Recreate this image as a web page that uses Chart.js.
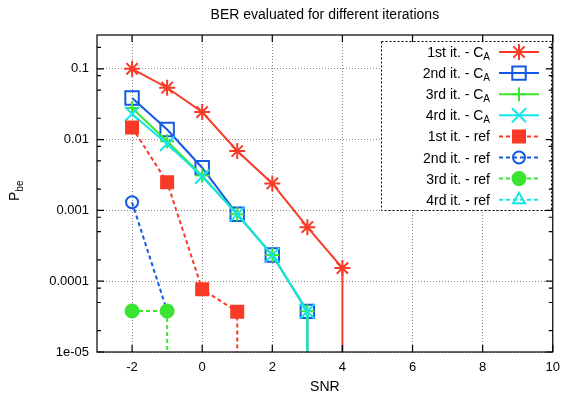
<!DOCTYPE html>
<html>
<head>
<meta charset="utf-8">
<script src="https://cdn.jsdelivr.net/npm/chart.js@4.4.1/dist/chart.umd.min.js"></script>
<style>
  body { margin: 0; background: #fff; }
  canvas { display: block; }
</style>
</head>
<body>
<canvas id="berChart" width="568" height="394"></canvas>
<script>
// SNR points and BER
const snr = [-2, -1, 0, 1, 2, 3, 4];
const it1CA = [0.1, 0.054, 0.0245, 0.0069, 0.0024, 0.00058, 0.000153];
const it2CA = [0.0386, 0.0139, 0.004, 0.00088, 0.000234, 0.0000375];
const it3CA = [0.028, 0.0095, 0.0031, 0.00088, 0.000234, 0.0000375];
const it4CA = [0.023, 0.0087, 0.003, 0.00088, 0.000234, 0.0000375];
const it1Ref = [0.0148, 0.0025, 0.000077, 0.000037];
const it2Ref = [0.0013, 0.000038];
const it3Ref = [0.000038, 0.000038];
const it4Ref = [];
// does the curve drop to zero errors after its last point
const dropsToZero = [true, true, true, true, true, false, true, false];

const seriesLabels = [
  "1st it. - C_A", "2nd it. - C_A", "3rd it. - C_A", "4rd it. - C_A",
  "1st it. - ref", "2nd it. - ref", "3rd it. - ref", "4rd it. - ref"
];
const xTicks = [-2, 0, 2, 4, 6, 8, 10];
const yTicks = [1e-5, 1e-4, 1e-3, 1e-2, 1e-1];
const yTickLabels = ["1e-05", "0.0001", "0.001", "0.01", "0.1"];
const yMinorMult = [2, 5, 8];

// zero errors: curve falls off the bottom of the plot
const ZERO_BER = 1e-9;

const RED = "#f83a26", BLUE = "#1259e6", GREEN = "#3ce432", CYAN = "#14e6e6";
const NONE = "rgba(0,0,0,0)";

const styles = [
  { color: RED,   dash: [],     point: "star",     radius: 8,   fill: false },
  { color: BLUE,  dash: [],     point: "rect",     radius: 9.5, fill: false },
  { color: GREEN, dash: [],     point: "cross",    radius: 7,   fill: false },
  { color: CYAN,  dash: [],     point: "crossRot", radius: 10,  fill: false },
  { color: RED,   dash: [4, 3], point: "rect",     radius: 8.5, fill: true },
  { color: BLUE,  dash: [4, 3], point: "circle",   radius: 6,   fill: false },
  { color: GREEN, dash: [4, 3], point: "circle",   radius: 6.5, fill: true },
  { color: CYAN,  dash: [4, 3], point: "triangle", radius: 7,   fill: false }
];

const allValues = [it1CA, it2CA, it3CA, it4CA, it1Ref, it2Ref, it3Ref, it4Ref];

function makeDataset(values, i) {
  const s = styles[i];
  const pts = values.map((v, k) => ({ x: snr[k], y: v }));
  if (pts.length && dropsToZero[i]) pts.push({ x: pts[pts.length - 1].x, y: ZERO_BER });
  return {
    label: seriesLabels[i],
    data: pts,
    order: -i,
    borderColor: s.color,
    borderWidth: 2,
    borderDash: s.dash,
    pointStyle: s.point,
    pointRadius: pts.map((p) => (p.y === ZERO_BER ? 0 : s.radius)),
    pointBorderColor: s.color,
    pointBackgroundColor: s.fill ? s.color : NONE,
    pointBorderWidth: 2,
    tension: 0,
    fill: false
  };
}

const FONT = "'Liberation Sans', Arial, sans-serif";

const framePlugin = {
  id: "frame",
  beforeDraw(chart) {
    const c = chart.ctx;
    c.save();
    c.fillStyle = "#fff";
    c.fillRect(0, 0, chart.width, chart.height);
    c.restore();
  },
  afterDatasetsDraw(chart) {
    const c = chart.ctx;
    const a = chart.chartArea;
    const xs = chart.scales.x, ys = chart.scales.y;

    // legend box
    const bx = 381.5, by = 41.5, bw = 170, bh = 169;
    c.save();
    c.fillStyle = "#fff";
    c.fillRect(bx, by, bw, bh);
    c.strokeStyle = "#000";
    c.lineWidth = 1;
    c.setLineDash([2, 2]);
    c.strokeRect(bx, by, bw, bh);
    c.setLineDash([]);

    chart.data.datasets.forEach((ds, i) => {
      const y = 52 + i * 21.1;
      const s = styles[i];
      const parts = ds.label.split("_");
      c.fillStyle = "#000";
      c.textBaseline = "alphabetic";
      c.textAlign = "left";
      let right = 490;
      c.font = "10px " + FONT;
      const subW = parts[1] ? c.measureText(parts[1]).width : 0;
      c.font = "14px " + FONT;
      const mainW = c.measureText(parts[0]).width;
      c.fillText(parts[0], right - subW - mainW, y + 5);
      if (parts[1]) {
        c.font = "10px " + FONT;
        c.fillText(parts[1], right - subW, y + 8);
      }
      c.strokeStyle = s.color;
      c.lineWidth = 2;
      c.setLineDash(s.dash);
      c.beginPath();
      c.moveTo(499, y);
      c.lineTo(539, y);
      c.stroke();
      c.setLineDash([]);
      c.fillStyle = s.fill ? s.color : NONE;
      Chart.helpers.drawPoint(c, { pointStyle: s.point, radius: s.radius, rotation: 0, borderWidth: 2 }, 519, y);
    });

    // frame and inward ticks
    c.strokeStyle = "#000";
    c.lineWidth = 1.2;
    c.strokeRect(a.left, a.top, a.right - a.left, a.bottom - a.top);
    c.beginPath();
    xTicks.forEach((v) => {
      const px = xs.getPixelForValue(v);
      c.moveTo(px, a.bottom); c.lineTo(px, a.bottom - 7);
      c.moveTo(px, a.top); c.lineTo(px, a.top + 7);
    });
    yTicks.forEach((v) => {
      const py = ys.getPixelForValue(v);
      c.moveTo(a.left, py); c.lineTo(a.left + 7, py);
      c.moveTo(a.right, py); c.lineTo(a.right - 7, py);
      yMinorMult.forEach((m) => {
        const mv = v * m;
        if (mv > ys.max) return;
        const my = ys.getPixelForValue(mv);
        c.moveTo(a.left, my); c.lineTo(a.left + 4, my);
        c.moveTo(a.right, my); c.lineTo(a.right - 4, my);
      });
    });
    c.stroke();

    // titles
    c.fillStyle = "#000";
    c.font = "14px " + FONT;
    c.textAlign = "center";
    c.textBaseline = "middle";
    c.fillText("BER evaluated for different iterations", (a.left + a.right) / 2, 15);
    c.fillText("SNR", (a.left + a.right) / 2, 387);

    c.translate(19, 201);
    c.rotate(-Math.PI / 2);
    c.textAlign = "left";
    c.textBaseline = "alphabetic";
    c.fillText("P", 0, 0);
    const pw = c.measureText("P").width;
    c.font = "10px " + FONT;
    c.fillText("be", pw, 4);
    c.restore();
  }
};

new Chart(document.getElementById("berChart"), {
  type: "line",
  data: { datasets: allValues.map(makeDataset) },
  options: {
    responsive: false,
    animation: false,
    devicePixelRatio: 1,
    layout: { padding: { left: 0, top: 35, right: 12, bottom: 0 } },
    plugins: { legend: { display: false }, title: { display: false }, tooltip: { enabled: false } },
    scales: {
      x: {
        type: "linear",
        min: -3,
        max: 10,
        afterFit: (s) => { s.height = 42; },
        afterBuildTicks: (s) => { s.ticks = xTicks.map((v) => ({ value: v })); },
        grid: { color: "#888", drawTicks: false },
        border: { display: false, dash: [1, 2] },
        ticks: { padding: 8, color: "#000", font: { family: FONT, size: 13 } }
      },
      y: {
        type: "logarithmic",
        min: 1e-5,
        max: 0.3,
        afterFit: (s) => { s.width = 97; },
        afterBuildTicks: (s) => { s.ticks = yTicks.map((v) => ({ value: v })); },
        grid: { color: "#888", drawTicks: false },
        border: { display: false, dash: [1, 2] },
        ticks: {
          padding: 8,
          color: "#000",
          font: { family: FONT, size: 13 },
          callback: (v) => yTickLabels[yTicks.indexOf(v)] ?? ""
        }
      }
    }
  },
  plugins: [framePlugin]
});
</script>
</body>
</html>
